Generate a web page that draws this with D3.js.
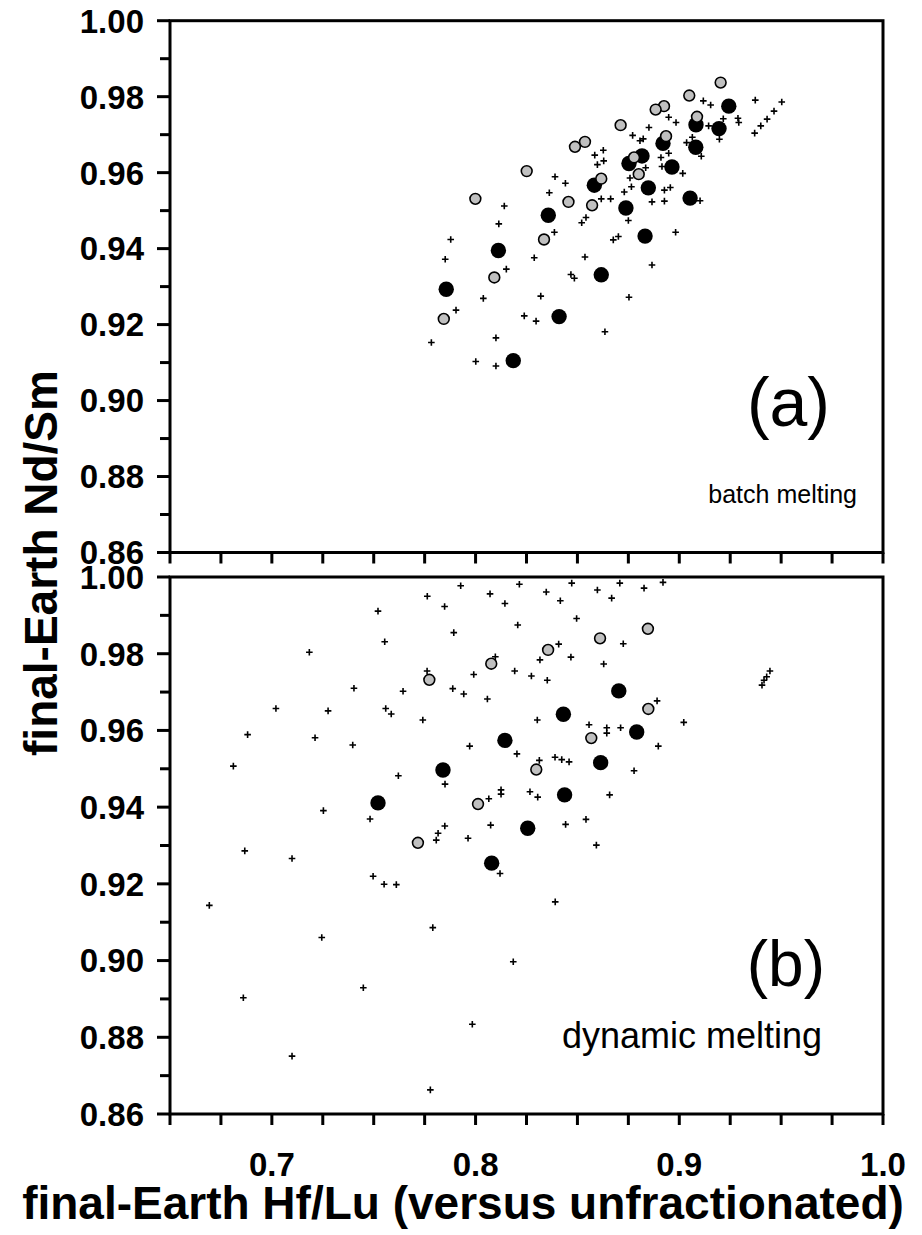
<!DOCTYPE html>
<html>
<head>
<meta charset="utf-8">
<script src="https://cdn.jsdelivr.net/npm/d3@7"></script>
<style>
  html, body { margin: 0; padding: 0; background: #fff; }
  svg { display: block; }
  .tick-label { font-family: "Liberation Sans", Arial, sans-serif; font-weight: bold; font-size: 33px; }
  .axis-title { font-family: "Liberation Sans", Arial, sans-serif; font-weight: bold; font-size: 46px; }
  .panel-tag { font-family: "Liberation Sans", Arial, sans-serif; }
  .panel-note { font-family: "Liberation Sans", Arial, sans-serif; }
</style>
</head>
<body>
<svg width="922" height="1235"></svg>
<script>
// tick values
const xTickValues = d3.range(0, 15).map(i => 0.65 + i * 0.025);
const xTickLabels = [0.7, 0.8, 0.9, 1.0];
const yTickValues = d3.range(0, 15).map(i => 0.86 + i * 0.01);
const yTickLabels = [0.86, 0.88, 0.90, 0.92, 0.94, 0.96, 0.98, 1.00];

// (a) batch melting: [Hf/Lu, Nd/Sm]
const batchCross = [
  [0.8390, 0.9589], [0.8441, 0.9572], [0.8362, 0.9547], [0.8141, 0.9512], [0.8114, 0.9465],
  [0.8387, 0.9443], [0.7878, 0.9424], [0.7851, 0.9372], [0.8288, 0.9376], [0.8151, 0.9346],
  [0.8468, 0.9332], [0.8485, 0.9322], [0.8038, 0.9269], [0.8320, 0.9275], [0.7904, 0.9238],
  [0.8239, 0.9223], [0.8297, 0.9209], [0.7783, 0.9153], [0.8100, 0.9165], [0.8001, 0.9103],
  [0.8100, 0.9091], [0.9118, 0.9789], [0.9154, 0.9778], [0.9373, 0.9791], [0.9503, 0.9786],
  [0.9465, 0.9762], [0.9431, 0.9741], [0.9400, 0.9723], [0.9370, 0.9704], [0.9288, 0.9743],
  [0.9292, 0.9732], [0.9216, 0.9742], [0.8948, 0.9746], [0.8984, 0.9732], [0.8851, 0.9719],
  [0.8771, 0.9698], [0.8807, 0.9684], [0.8823, 0.9689], [0.9144, 0.9723], [0.9197, 0.9688],
  [0.9064, 0.9693], [0.9036, 0.9679], [0.8627, 0.9659], [0.8585, 0.9646], [0.8629, 0.9631],
  [0.8598, 0.9621], [0.8948, 0.9651], [0.8910, 0.9640], [0.8915, 0.9616], [0.9108, 0.9643],
  [0.8835, 0.9613], [0.9017, 0.9598], [0.8758, 0.9586], [0.8765, 0.9563], [0.8730, 0.9549],
  [0.8927, 0.9554], [0.8956, 0.9561], [0.8617, 0.9531], [0.8663, 0.9531], [0.8866, 0.9523],
  [0.8927, 0.9525], [0.9102, 0.9526], [0.8521, 0.9468], [0.8542, 0.9482], [0.8750, 0.9474],
  [0.8676, 0.9423], [0.8701, 0.9432], [0.8982, 0.9443], [0.8537, 0.9378], [0.8866, 0.9357],
  [0.8753, 0.9272], [0.8635, 0.9181]
];
const batchGray = [
  [0.9203, 0.9837], [0.9049, 0.9803], [0.8925, 0.9775], [0.8884, 0.9766], [0.9087, 0.9747],
  [0.8712, 0.9725], [0.8935, 0.9696], [0.8537, 0.9681], [0.8488, 0.9668], [0.8778, 0.9640],
  [0.8617, 0.9584], [0.8801, 0.9596], [0.8456, 0.9523], [0.8572, 0.9514], [0.8251, 0.9604],
  [0.7999, 0.9531], [0.8336, 0.9424], [0.8092, 0.9324], [0.7844, 0.9215]
];
const batchBlack = [
  [0.9243, 0.9775], [0.9082, 0.9726], [0.9195, 0.9716], [0.8920, 0.9677], [0.9081, 0.9667],
  [0.8817, 0.9644], [0.8753, 0.9624], [0.8964, 0.9615], [0.8583, 0.9567], [0.8848, 0.9560],
  [0.9053, 0.9533], [0.8738, 0.9507], [0.8832, 0.9433], [0.8617, 0.9331], [0.8410, 0.9221],
  [0.8357, 0.9488], [0.8112, 0.9395], [0.7856, 0.9293], [0.8185, 0.9105]
];

// (b) dynamic melting
const dynCross = [
  [0.7927, 0.9977], [0.8215, 0.9981], [0.8472, 0.9984], [0.7763, 0.9950], [0.8071, 0.9956],
  [0.8347, 0.9961], [0.8416, 0.9938], [0.7848, 0.9923], [0.8144, 0.9931], [0.7521, 0.9911],
  [0.8496, 0.9892], [0.8207, 0.9875], [0.7893, 0.9855], [0.7554, 0.9831], [0.7184, 0.9804],
  [0.8408, 0.9825], [0.8097, 0.9792], [0.8316, 0.9784], [0.8468, 0.9791], [0.7762, 0.9755],
  [0.7991, 0.9746], [0.8192, 0.9755], [0.8274, 0.9742], [0.8352, 0.9731], [0.7403, 0.9710],
  [0.7644, 0.9702], [0.7888, 0.9709], [0.7942, 0.9695], [0.8058, 0.9682], [0.7020, 0.9657],
  [0.7276, 0.9651], [0.7559, 0.9657], [0.7586, 0.9643], [0.7741, 0.9627], [0.8303, 0.9627],
  [0.6881, 0.9589], [0.7212, 0.9581], [0.7397, 0.9562], [0.7971, 0.9559], [0.8203, 0.9539],
  [0.8313, 0.9522], [0.8390, 0.9530], [0.8423, 0.9524], [0.8459, 0.9518], [0.6811, 0.9507],
  [0.7621, 0.9482], [0.7850, 0.9460], [0.8125, 0.9445], [0.8125, 0.9434], [0.8267, 0.9440],
  [0.8305, 0.9426], [0.8065, 0.9422], [0.7253, 0.9391], [0.7482, 0.9369], [0.7849, 0.9351],
  [0.7816, 0.9332], [0.7807, 0.9314], [0.8074, 0.9353], [0.8442, 0.9355], [0.7963, 0.9319],
  [0.6867, 0.9286], [0.7099, 0.9266], [0.8598, 0.9966], [0.8708, 0.9984], [0.8827, 0.9971],
  [0.8920, 0.9986], [0.8668, 0.9945], [0.8725, 0.9826], [0.8629, 0.9773], [0.9445, 0.9755],
  [0.9429, 0.9740], [0.9416, 0.9731], [0.9406, 0.9718], [0.8891, 0.9677], [0.9022, 0.9621],
  [0.8557, 0.9615], [0.8644, 0.9607], [0.8644, 0.9593], [0.8712, 0.9607], [0.8897, 0.9559],
  [0.8778, 0.9495], [0.8658, 0.9432], [0.8542, 0.9368], [0.8593, 0.9301], [0.7497, 0.9220],
  [0.7551, 0.9199], [0.7611, 0.9198], [0.8120, 0.9227], [0.6693, 0.9144], [0.8391, 0.9153],
  [0.7790, 0.9086], [0.7245, 0.9060], [0.8185, 0.8997], [0.7449, 0.8929], [0.6860, 0.8903],
  [0.7984, 0.8834], [0.7099, 0.8751], [0.7778, 0.8663]
];
const dynGray = [
  [0.8356, 0.9810], [0.8077, 0.9774], [0.7773, 0.9732], [0.8298, 0.9498], [0.8012, 0.9408],
  [0.7717, 0.9307], [0.8611, 0.9840], [0.8846, 0.9865], [0.8848, 0.9656], [0.8568, 0.9580]
];
const dynBlack = [
  [0.8431, 0.9642], [0.8144, 0.9574], [0.7840, 0.9497], [0.7521, 0.9411], [0.8437, 0.9432],
  [0.8256, 0.9345], [0.8079, 0.9254], [0.8703, 0.9703], [0.8791, 0.9596], [0.8614, 0.9516]
];

const panels = [
  { top: 20.7, bottom: 552.5, cross: batchCross, gray: batchGray, black: batchBlack,
    tag: "(a)", tagSize: 68, tagX: 830, tagY: 426,
    note: "batch melting", noteSize: 25, noteX: 857, noteY: 503, xLabels: false },
  { top: 577, bottom: 1114, cross: dynCross, gray: dynGray, black: dynBlack,
    tag: "(b)", tagSize: 64, tagX: 825, tagY: 986,
    note: "dynamic melting", noteSize: 36, noteX: 822, noteY: 1048, xLabels: true }
];

const svg = d3.select("svg");
const left = 170, right = 883;
const x = d3.scaleLinear().domain([0.65, 1.0]).range([left, right]);

panels.forEach(p => {
  const y = d3.scaleLinear().domain([0.86, 1.0]).range([p.bottom, p.top]);
  const g = svg.append("g");

  // crosses, then filled, then grey circles on top
  g.append("g").selectAll("path")
    .data(p.cross)
    .join("path")
    .attr("d", d => `M${x(d[0]) - 3.3},${y(d[1])}h6.6M${x(d[0])},${y(d[1]) - 3.3}v6.6`)
    .attr("stroke", "#000")
    .attr("stroke-width", 1.6);

  g.append("g").selectAll("circle")
    .data(p.black)
    .join("circle")
    .attr("cx", d => x(d[0]))
    .attr("cy", d => y(d[1]))
    .attr("r", 7.7)
    .attr("fill", "#000");

  g.append("g").selectAll("circle")
    .data(p.gray)
    .join("circle")
    .attr("cx", d => x(d[0]))
    .attr("cy", d => y(d[1]))
    .attr("r", 5.4)
    .attr("fill", "#c0c0c0")
    .attr("stroke", "#000")
    .attr("stroke-width", 1.6);

  // frame
  g.append("rect")
    .attr("x", left).attr("y", p.top)
    .attr("width", right - left).attr("height", p.bottom - p.top)
    .attr("fill", "none").attr("stroke", "#000").attr("stroke-width", 3);

  // y ticks (major every 0.02)
  g.append("g").selectAll("line")
    .data(yTickValues)
    .join("line")
    .attr("x1", (d, i) => i % 2 === 0 ? left - 13 : left - 10)
    .attr("x2", left)
    .attr("y1", d => y(d)).attr("y2", d => y(d))
    .attr("stroke", "#000").attr("stroke-width", 3);

  g.append("g").selectAll("text")
    .data(yTickLabels)
    .join("text")
    .attr("class", "tick-label")
    .attr("x", 144)
    .attr("y", d => y(d))
    .attr("dy", "0.36em")
    .attr("text-anchor", "end")
    .text(d => d3.format(".2f")(d));

  // x ticks
  g.append("g").selectAll("line")
    .data(xTickValues)
    .join("line")
    .attr("x1", d => x(d)).attr("x2", d => x(d))
    .attr("y1", p.bottom).attr("y2", p.bottom + 11)
    .attr("stroke", "#000").attr("stroke-width", 3);

  if (p.xLabels) {
    g.append("g").selectAll("text")
      .data(xTickLabels)
      .join("text")
      .attr("class", "tick-label")
      .attr("x", d => x(d))
      .attr("y", 1176)
      .attr("text-anchor", "middle")
      .text(d => d3.format(".1f")(d));
  }

  g.append("text")
    .attr("class", "panel-tag")
    .attr("x", p.tagX)
    .attr("y", p.tagY)
    .attr("font-size", p.tagSize)
    .attr("text-anchor", "end")
    .text(p.tag);

  g.append("text")
    .attr("class", "panel-note")
    .attr("x", p.noteX)
    .attr("y", p.noteY)
    .attr("font-size", p.noteSize)
    .attr("text-anchor", "end")
    .text(p.note);
});

svg.append("text")
  .attr("class", "axis-title")
  .attr("x", 463)
  .attr("y", 1219)
  .attr("text-anchor", "middle")
  .text("final-Earth Hf/Lu (versus unfractionated)");

svg.append("text")
  .attr("class", "axis-title")
  .attr("transform", "translate(57,563) rotate(-90)")
  .attr("text-anchor", "middle")
  .attr("font-size", 50)
  .text("final-Earth Nd/Sm");
</script>
</body>
</html>
